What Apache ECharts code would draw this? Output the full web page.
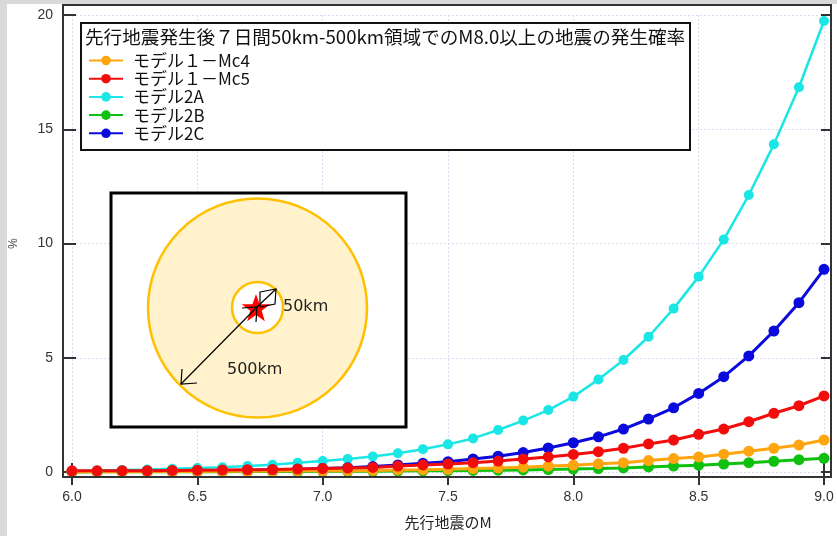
<!DOCTYPE html>
<html>
<head>
<meta charset="utf-8">
<script src="https://cdn.jsdelivr.net/npm/echarts@6/dist/echarts.min.js"></script>
<style>
html,body{margin:0;padding:0;background:#d9d9d9;}
#chart{width:837px;height:536px;}
</style>
</head>
<body>
<div id="chart"></div>
<script>
// ---- data ----
var magnitudes = [6.0,6.1,6.2,6.3,6.4,6.5,6.6,6.7,6.8,6.9,7.0,7.1,7.2,7.3,7.4,7.5,7.6,7.7,7.8,7.9,8.0,8.1,8.2,8.3,8.4,8.5,8.6,8.7,8.8,8.9,9.0];
var model1Mc4 = [0.01,0.01,0.01,0.02,0.02,0.02,0.03,0.03,0.04,0.05,0.05,0.06,0.07,0.09,0.10,0.12,0.15,0.18,0.21,0.26,0.30,0.36,0.41,0.50,0.59,0.66,0.78,0.91,1.04,1.18,1.40];
var model1Mc5 = [0.05,0.05,0.06,0.06,0.07,0.08,0.09,0.10,0.11,0.13,0.15,0.17,0.20,0.26,0.31,0.35,0.41,0.48,0.57,0.66,0.77,0.89,1.04,1.23,1.40,1.65,1.88,2.20,2.57,2.90,3.33];
var model2A = [0.06,0.07,0.09,0.11,0.14,0.17,0.21,0.26,0.32,0.40,0.48,0.57,0.68,0.82,1.00,1.21,1.47,1.84,2.25,2.71,3.30,4.05,4.90,5.92,7.15,8.55,10.17,12.12,14.34,16.84,19.74];
var model2B = [0.00,0.01,0.01,0.01,0.01,0.01,0.01,0.02,0.02,0.02,0.03,0.03,0.03,0.04,0.05,0.06,0.07,0.08,0.09,0.11,0.13,0.15,0.18,0.22,0.26,0.30,0.35,0.41,0.47,0.54,0.60];
var model2C = [0.02,0.02,0.03,0.03,0.04,0.05,0.06,0.08,0.10,0.12,0.15,0.19,0.24,0.31,0.38,0.45,0.57,0.69,0.85,1.05,1.28,1.54,1.88,2.32,2.81,3.44,4.17,5.08,6.17,7.41,8.87];
var seriesNames = ['モデル１－Mc4','モデル１－Mc5','モデル2A','モデル2B','モデル2C'];
var xTicks = [6.0,6.5,7.0,7.5,8.0,8.5,9.0];
var yTicks = [0,5,10,15,20];
var chartTitle = '先行地震発生後７日間50km-500km領域でのM8.0以上の地震の発生確率';
var xTitle = '先行地震のM';
var yTitle = '%';

function pairs(arr){ return magnitudes.map(function(m,i){ return [m, arr[i]]; }); }

var colorList = ['#ffa50f','#f20d0d','#1ae6e6','#10c010','#0a0adc'];
var dataList = [model1Mc4, model1Mc5, model2A, model2B, model2C];
var drawOrder = [2,4,3,0,1];

function mkSeries(idx){
  var name = seriesNames[idx];
  return {
    name:name, type:'line', data:pairs(dataList[idx]),
    xAxisIndex:0, yAxisIndex:0,
    symbol:'circle', symbolSize: idx===2?10:11,
    showSymbol:true, clip:false,
    lineStyle:{color:colorList[idx], width: idx===2?2.5:3},
    itemStyle:{color:colorList[idx]},
    emphasis:{disabled:true},
    animation:false
  };
}

// star points (decoration)
function starPts(cx,cy,R,r){
  var pts=[];
  for(var i=0;i<10;i++){
    var a=-Math.PI/2+i*Math.PI/5;
    var rr=(i%2===0)?R:r;
    pts.push([cx+rr*Math.cos(a), cy+rr*Math.sin(a)]);
  }
  return pts;
}

var font = '"Liberation Sans","Noto Sans CJK JP",sans-serif';
var jpFont = '"Noto Sans CJK JP","Liberation Sans",sans-serif';
var tickColor = '#333';
var gridLine = {show:true, lineStyle:{color:'#dadaf4', type:[2,2], width:1}};

var chart = echarts.init(document.getElementById('chart'), null, {renderer:'canvas'});
chart.setOption({
  backgroundColor:'#d9d9d9',
  animation:false,
  textStyle:{fontFamily:font},
  grid:{left:72, right:13, top:15, bottom:64, show:false, containLabel:false, outerBoundsMode:'none'},
  xAxis:[
    {type:'value', position:'bottom', min:6, max:9, interval:0.5, offset:5,
     name:xTitle, nameLocation:'middle', nameGap:38,
     nameTextStyle:{fontSize:15, color:'#222', fontFamily:jpFont},
     axisLine:{show:false},
     axisTick:{show:true, inside:true, length:9, lineStyle:{color:tickColor, width:2}},
     axisLabel:{fontSize:14, color:'#333', margin:13, formatter:function(v){return v.toFixed(1);}},
     splitLine:gridLine
    },
    {type:'value', position:'top', min:6, max:9, interval:0.5, offset:10,
     axisLine:{show:false},
     axisTick:{show:true, inside:true, length:13, lineStyle:{color:tickColor, width:2}},
     axisLabel:{show:false}, splitLine:{show:false}
    }
  ],
  yAxis:[
    {type:'value', position:'left', min:0, max:20, interval:5, offset:9,
     name:yTitle, nameLocation:'middle', nameGap:46, nameRotate:-90,
     nameTextStyle:{fontSize:12, color:'#444'},
     axisLine:{show:false},
     axisTick:{show:true, inside:true, length:13, lineStyle:{color:tickColor, width:2}},
     axisLabel:{fontSize:14, color:'#333', margin:10},
     splitLine:gridLine
    },
    {type:'value', position:'right', min:0, max:20, interval:5, offset:7,
     axisLine:{show:false},
     axisTick:{show:true, inside:true, length:10, lineStyle:{color:tickColor, width:2}},
     axisLabel:{show:false}, splitLine:{show:false}
    }
  ],
  legend:{
    data:seriesNames, orient:'vertical', left:88, top:52, padding:0,
    itemWidth:34, itemHeight:12, itemGap:1.2,
    textStyle:{fontSize:17, color:'#111', fontFamily:jpFont, lineHeight:16, padding:[0,0,0,5]},
    selectedMode:false, z:20
  },
  graphic:[
    {type:'rect', z:-10, silent:true, shape:{x:7,y:4,width:830,height:532}, style:{fill:'#ffffff'}},
    {type:'rect', z:5, silent:true, shape:{x:63,y:5,width:768,height:472}, style:{fill:'none', stroke:'#333', lineWidth:2}},
    // legend box
    {type:'rect', z:10, silent:true, shape:{x:81,y:23,width:609,height:127}, style:{fill:'#ffffff', stroke:'#111', lineWidth:2}},
    {type:'text', z:11, silent:true, left:85, top:28, style:{text:chartTitle, fontSize:18.6, fill:'#111', fontFamily:jpFont}},
    // inset
    {type:'rect', z:10, silent:true, shape:{x:111,y:193,width:295,height:234}, style:{fill:'#ffffff', stroke:'#000', lineWidth:3}},
    {type:'circle', z:11, silent:true, shape:{cx:257.5,cy:308,r:109.5}, style:{fill:'#fff2cc', stroke:'#ffc000', lineWidth:2.5}},
    {type:'circle', z:12, silent:true, shape:{cx:257.5,cy:307.5,r:25.5}, style:{fill:'#ffffff', stroke:'#ffc000', lineWidth:2.5}},
    {type:'polygon', z:13, silent:true, shape:{points:starPts(256,309,15,6)}, style:{fill:'#ff0000', stroke:'none'}},
    {type:'line', z:14, silent:true, shape:{x1:257,y1:307,x2:181,y2:384}, style:{stroke:'#000', lineWidth:1.2}},
    {type:'polyline', z:14, silent:true, shape:{points:[[182,369],[181,384],[197,383]]}, style:{stroke:'#000', lineWidth:1.2, fill:'none'}},
    {type:'polyline', z:14, silent:true, shape:{points:[[242,308],[257,307],[256,322]]}, style:{stroke:'#000', lineWidth:1.2, fill:'none'}},
    {type:'line', z:14, silent:true, shape:{x1:257,y1:307,x2:276,y2:289}, style:{stroke:'#000', lineWidth:1.2}},
    {type:'polygon', z:14, silent:true, shape:{points:[[260,292],[276,289],[275,304],[260,307]]}, style:{stroke:'#000', lineWidth:1.2, fill:'none'}},
    {type:'text', z:14, silent:true, left:283, top:299, style:{text:'50km', fontSize:16, fill:'#222', fontFamily:'"DejaVu Sans",sans-serif'}},
    {type:'text', z:14, silent:true, left:227, top:362, style:{text:'500km', fontSize:16, fill:'#222', fontFamily:'"DejaVu Sans",sans-serif'}}
  ],
  series: drawOrder.map(mkSeries)
});
</script>
</body>
</html>
